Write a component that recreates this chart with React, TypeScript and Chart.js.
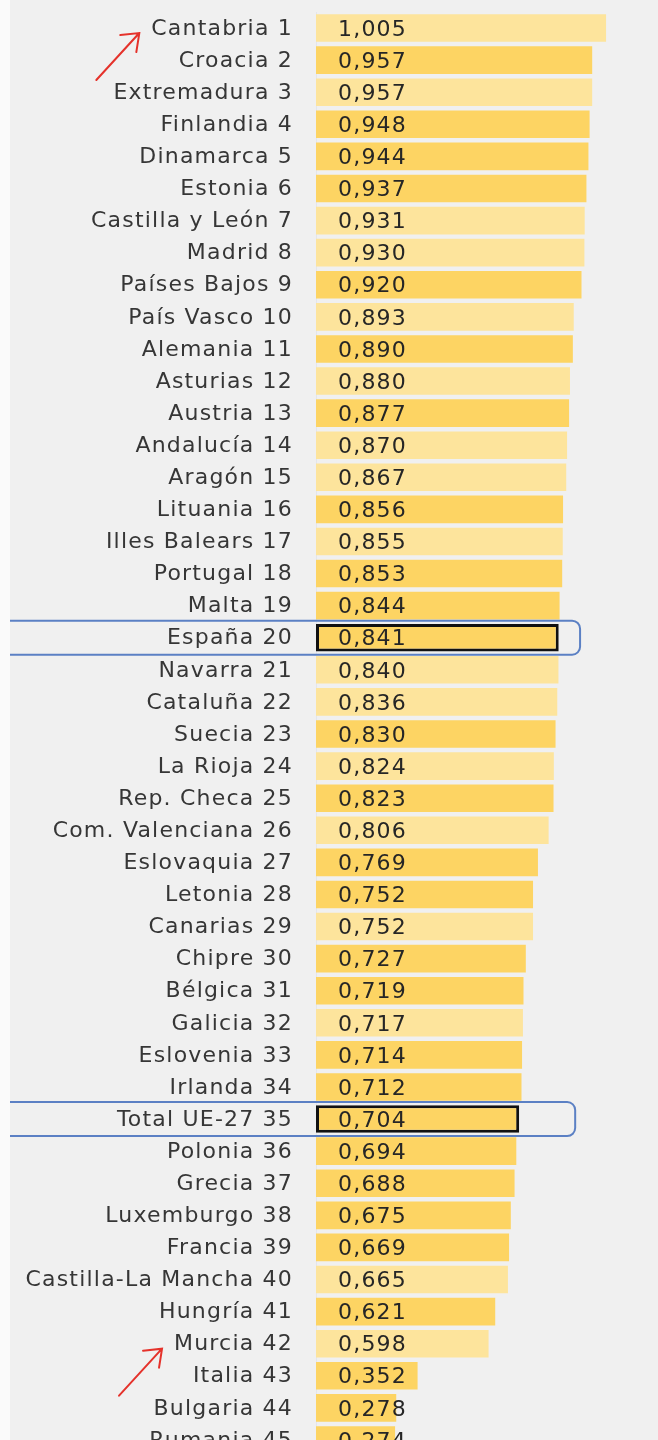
import React, { useEffect, useRef } from "react";
import { Chart, registerables } from "chart.js";

Chart.register(...registerables);

const categories = [
  "Cantabria", "Croacia", "Extremadura", "Finlandia", "Dinamarca", "Estonia",
  "Castilla y León", "Madrid", "Países Bajos", "País Vasco", "Alemania", "Asturias",
  "Austria", "Andalucía", "Aragón", "Lituania", "Illes Balears", "Portugal", "Malta",
  "España", "Navarra", "Cataluña", "Suecia", "La Rioja", "Rep. Checa",
  "Com. Valenciana", "Eslovaquia", "Letonia", "Canarias", "Chipre", "Bélgica",
  "Galicia", "Eslovenia", "Irlanda", "Total UE-27", "Polonia", "Grecia",
  "Luxemburgo", "Francia", "Castilla-La Mancha", "Hungría", "Murcia", "Italia",
  "Bulgaria", "Rumania",
];

const values = [
  1.005, 0.957, 0.957, 0.948, 0.944, 0.937, 0.931, 0.93, 0.92, 0.893, 0.89, 0.88,
  0.877, 0.87, 0.867, 0.856, 0.855, 0.853, 0.844, 0.841, 0.84, 0.836, 0.83, 0.824,
  0.823, 0.806, 0.769, 0.752, 0.752, 0.727, 0.719, 0.717, 0.714, 0.712, 0.704,
  0.694, 0.688, 0.675, 0.669, 0.665, 0.621, 0.598, 0.352, 0.278, 0.274,
];

// true = Spanish region (light bar), false = country / aggregate (dark bar)
const isRegion = [
  true, false, true, false, false, false, true, true, false, true, false, true,
  false, true, true, false, true, false, false, false, true, true, false, true,
  false, true, false, false, true, false, false, true, false, false, false,
  false, false, false, false, true, false, true, false, false, false,
];

const highlighted = ["España", "Total UE-27"];
const highlightBoxEnd = [0.915, 0.898];
const arrowTargets = ["Cantabria", "Murcia"];

const LIGHT = "#fde49c";
const DARK = "#fdd463";
const FONT = "'DejaVu Sans', sans-serif";
const FONT_SIZE = 22;
const SPACING = "1.2px";

export default function App() {
  const ref = useRef<HTMLCanvasElement | null>(null);

  useEffect(() => {
    document.body.style.margin = "0";
    document.body.style.background = "#f0f0f0";
    const canvas = ref.current;
    if (!canvas) return;

    const labels = categories.map((c, i) => `${c} ${i + 1}`);

    const overlay = {
      id: "overlay",
      beforeDraw(chart: any) {
        const { ctx, width, height } = chart;
        ctx.save();
        ctx.fillStyle = "#f0f0f0";
        ctx.fillRect(0, 0, width, height);
        ctx.restore();
      },
      afterDatasetsDraw(chart: any) {
        const { ctx, chartArea } = chart;
        const x = chart.scales.x;
        const y = chart.scales.y;
        ctx.save();
        ctx.font = `${FONT_SIZE}px ${FONT}`;
        (ctx as any).letterSpacing = SPACING;
        ctx.textBaseline = "middle";
        // category labels
        ctx.fillStyle = "#363636";
        ctx.textAlign = "right";
        labels.forEach((l, i) => {
          ctx.fillText(l, chartArea.left - 23, y.getPixelForValue(i) + 1);
        });
        // value labels
        ctx.fillStyle = "#262626";
        ctx.textAlign = "left";
        values.forEach((v, i) => {
          const py = y.getPixelForValue(i);
          ctx.fillText(v.toFixed(3).replace(".", ","), chartArea.left + 22, py + 2);
        });
        // blue highlight boxes
        ctx.strokeStyle = "#5b80c4";
        ctx.lineWidth = 2;
        highlighted.forEach((name, k) => {
          const idx = categories.indexOf(name);
          const py = y.getPixelForValue(idx);
          const right = x.getPixelForValue(highlightBoxEnd[k]);
          ctx.beginPath();
          ctx.roundRect(-20, py - 17, right + 20, 34, 8);
          ctx.stroke();
        });
        // left white strip
        ctx.fillStyle = "#fafafa";
        ctx.fillRect(0, 0, 10, chart.height);
        // red arrows
        ctx.strokeStyle = "#e5322b";
        ctx.lineWidth = 2;
        ctx.lineCap = "round";
        arrowTargets.forEach((name) => {
          const idx = categories.indexOf(name);
          const py = y.getPixelForValue(idx);
          const w = ctx.measureText(labels[idx]).width;
          const tipX = chartArea.left - 23 - w - 12;
          const tipY = py + 5;
          ctx.beginPath();
          ctx.moveTo(tipX - 43, tipY + 47);
          ctx.lineTo(tipX, tipY);
          ctx.moveTo(tipX - 19, tipY + 2);
          ctx.lineTo(tipX, tipY);
          ctx.lineTo(tipX - 3, tipY + 19);
          ctx.stroke();
        });
        ctx.restore();
      },
    };

    const chart = new Chart(canvas, {
      type: "bar",
      data: {
        labels,
        datasets: [
          {
            data: values,
            backgroundColor: isRegion.map((r) => (r ? LIGHT : DARK)),
            borderColor: categories.map((c) => (highlighted.includes(c) ? "#111111" : "rgba(0,0,0,0)")),
            borderWidth: categories.map((c) => (highlighted.includes(c) ? 3 : 0)),
            borderSkipped: false,
            barPercentage: 0.86,
            categoryPercentage: 1,
          },
        ],
      },
      options: {
        indexAxis: "y",
        responsive: false,
        maintainAspectRatio: false,
        animation: false,
        layout: { padding: { top: 12, bottom: 4, left: 0, right: 0 } },
        plugins: {
          legend: { display: false },
          tooltip: { enabled: false },
        },
        scales: {
          x: {
            display: false,
            min: 0,
            max: 1.185,
          },
          y: {
            grid: { display: false, drawTicks: false },
            border: { display: true, color: "#e3e5ec", width: 1 },
            ticks: { display: false },
            afterFit(scale: any) {
              scale.width = 316;
            },
          },
        },
      },
      plugins: [overlay],
    });

    return () => chart.destroy();
  }, []);

  return (
    <div style={{ width: 658, height: 1460 }}>
      <canvas ref={ref} width={658} height={1460} style={{ display: "block" }} />
    </div>
  );
}
